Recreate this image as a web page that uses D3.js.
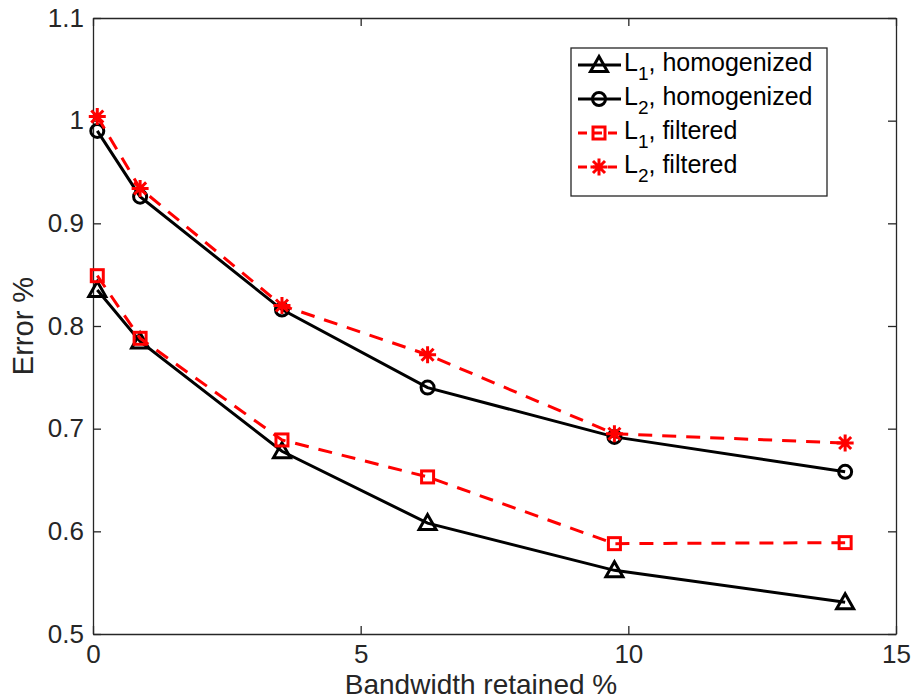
<!DOCTYPE html>
<html>
<head>
<meta charset="utf-8">
<script src="https://cdn.jsdelivr.net/npm/d3@7"></script>
<style>
body { margin: 0; background: #fff; }
text { font-family: "Liberation Sans", Arial, sans-serif; }
</style>
</head>
<body>
<div id="graph"></div>
<script>
"use strict";
let bandwidth = [0.08, 0.88, 3.53, 6.25, 9.74, 14.05];
let l1Homog = [0.835, 0.785, 0.678, 0.608, 0.562, 0.531];
let l2Homog = [0.990, 0.926, 0.816, 0.740, 0.692, 0.658];
let l1Filt = [0.849, 0.788, 0.689, 0.653, 0.588, 0.589];
let l2Filt = [1.004, 0.934, 0.820, 0.772, 0.695, 0.686];
let xTicks = [0, 5, 10, 15];
let yTicks = [0.5, 0.6, 0.7, 0.8, 0.9, 1, 1.1];

let series = [
	{ sub: "1", name: "homogenized", values: l1Homog, color: "#000", dash: null, marker: "triangle" },
	{ sub: "2", name: "homogenized", values: l2Homog, color: "#000", dash: null, marker: "circle" },
	{ sub: "1", name: "filtered", values: l1Filt, color: "#ff0000", dash: "14,10", marker: "square" },
	{ sub: "2", name: "filtered", values: l2Filt, color: "#ff0000", dash: "14,10", marker: "star" }
];

let width = 915, height = 700;
let margin = { top: 18, right: 19, bottom: 66, left: 93 };
let plotW = width - margin.left - margin.right;
let plotH = height - margin.top - margin.bottom;
let axisColor = "#262626";

let svg = d3.select("#graph").append("svg")
	.attr("width", width)
	.attr("height", height);

let x = d3.scaleLinear().domain([0, 15]).range([0, plotW]);
let y = d3.scaleLinear().domain([0.5, 1.1]).range([plotH, 0]);

let g = svg.append("g").attr("transform", "translate(" + margin.left + "," + margin.top + ")");

function styleAxis(sel, labels)
{
	sel.select(".domain").attr("stroke", axisColor).attr("stroke-width", 1.3);
	sel.selectAll(".tick line").attr("stroke", axisColor).attr("stroke-width", 1.3);
	if (labels)
	{
		sel.selectAll(".tick text")
			.attr("fill", axisColor)
			.style("font-size", "26px")
			.style("font-family", "'Liberation Sans', Arial, sans-serif");
	}
	else
	{
		sel.selectAll(".tick text").remove();
	}
}

// bottom, left, top, right (ticks inward)
g.append("g").attr("transform", "translate(0," + plotH + ")")
	.call(d3.axisBottom(x).tickValues(xTicks).tickSizeInner(-8).tickSizeOuter(0).tickPadding(11).tickFormat(d3.format("d")))
	.call(s => styleAxis(s, true));
g.append("g")
	.call(d3.axisLeft(y).tickValues(yTicks).tickSizeInner(-8).tickSizeOuter(0).tickPadding(9).tickFormat(d => d === 1 ? "1" : d3.format(".1f")(d)))
	.call(s => styleAxis(s, true));
g.append("g")
	.call(d3.axisTop(x).tickValues(xTicks).tickSizeInner(-8).tickSizeOuter(0))
	.call(s => styleAxis(s, false));
g.append("g").attr("transform", "translate(" + plotW + ",0)")
	.call(d3.axisRight(y).tickValues(yTicks).tickSizeInner(-8).tickSizeOuter(0))
	.call(s => styleAxis(s, false));

// axis titles
svg.append("text")
	.attr("x", 481)
	.attr("y", 694)
	.attr("text-anchor", "middle")
	.attr("fill", axisColor)
	.style("font-size", "28px")
	.text("Bandwidth retained %");
svg.append("text")
	.attr("transform", "translate(33," + (margin.top + plotH / 2) + ") rotate(-90)")
	.attr("text-anchor", "middle")
	.attr("fill", axisColor)
	.style("font-size", "29px")
	.text("Error %");

let line = d3.line()
	.x((d, i) => x(bandwidth[i]))
	.y(d => y(d));

function drawMarker(sel, type, color)
{
	if (type === "triangle")
	{
		sel.append("path").attr("d", "M0,-8.5L8.5,6.5L-8.5,6.5Z")
			.attr("fill", "none").attr("stroke", color).attr("stroke-width", 3);
	}
	else if (type === "circle")
	{
		sel.append("circle").attr("r", 6.5)
			.attr("fill", "none").attr("stroke", color).attr("stroke-width", 3);
	}
	else if (type === "square")
	{
		sel.append("rect").attr("x", -6).attr("y", -6).attr("width", 12).attr("height", 12)
			.attr("fill", "none").attr("stroke", color).attr("stroke-width", 3);
	}
	else
	{
		let r = 8.5;
		let p = "";
		for (let k = 0; k < 4; k++)
		{
			let a = k * Math.PI / 4;
			p += "M" + (-r * Math.cos(a)) + "," + (-r * Math.sin(a)) + "L" + (r * Math.cos(a)) + "," + (r * Math.sin(a));
		}
		sel.append("path").attr("d", p).attr("stroke", color).attr("stroke-width", 3);
	}
}

series.forEach(function(s)
{
	g.append("path")
		.datum(s.values)
		.attr("d", line)
		.attr("fill", "none")
		.attr("stroke", s.color)
		.attr("stroke-width", 3)
		.attr("stroke-dasharray", s.dash);
	s.values.forEach(function(v, i)
	{
		let m = g.append("g").attr("transform", "translate(" + x(bandwidth[i]) + "," + y(v) + ")");
		drawMarker(m, s.marker, s.color);
	});
});

// legend
let legend = svg.append("g").attr("transform", "translate(571,48)");
legend.append("rect")
	.attr("width", 256).attr("height", 148)
	.attr("fill", "#fff").attr("stroke", axisColor).attr("stroke-width", 1.3);

series.forEach(function(s, i)
{
	let row = legend.append("g").attr("transform", "translate(0," + (17 + i * 34) + ")");
	row.append("line")
		.attr("x1", 7).attr("x2", 50).attr("y1", 0).attr("y2", 0)
		.attr("stroke", s.color).attr("stroke-width", 3)
		.attr("stroke-dasharray", s.dash ? "9,6" : null);
	drawMarker(row.append("g").attr("transform", "translate(28,0)"), s.marker, s.color);
	let t = row.append("text")
		.attr("x", 53).attr("y", 6)
		.attr("fill", "#000")
		.style("font-size", "25px");
	t.append("tspan").text("L");
	t.append("tspan").attr("dy", 9).style("font-size", "19px").text(s.sub);
	t.append("tspan").attr("dy", -9).text(", " + s.name);
});
</script>
</body>
</html>
